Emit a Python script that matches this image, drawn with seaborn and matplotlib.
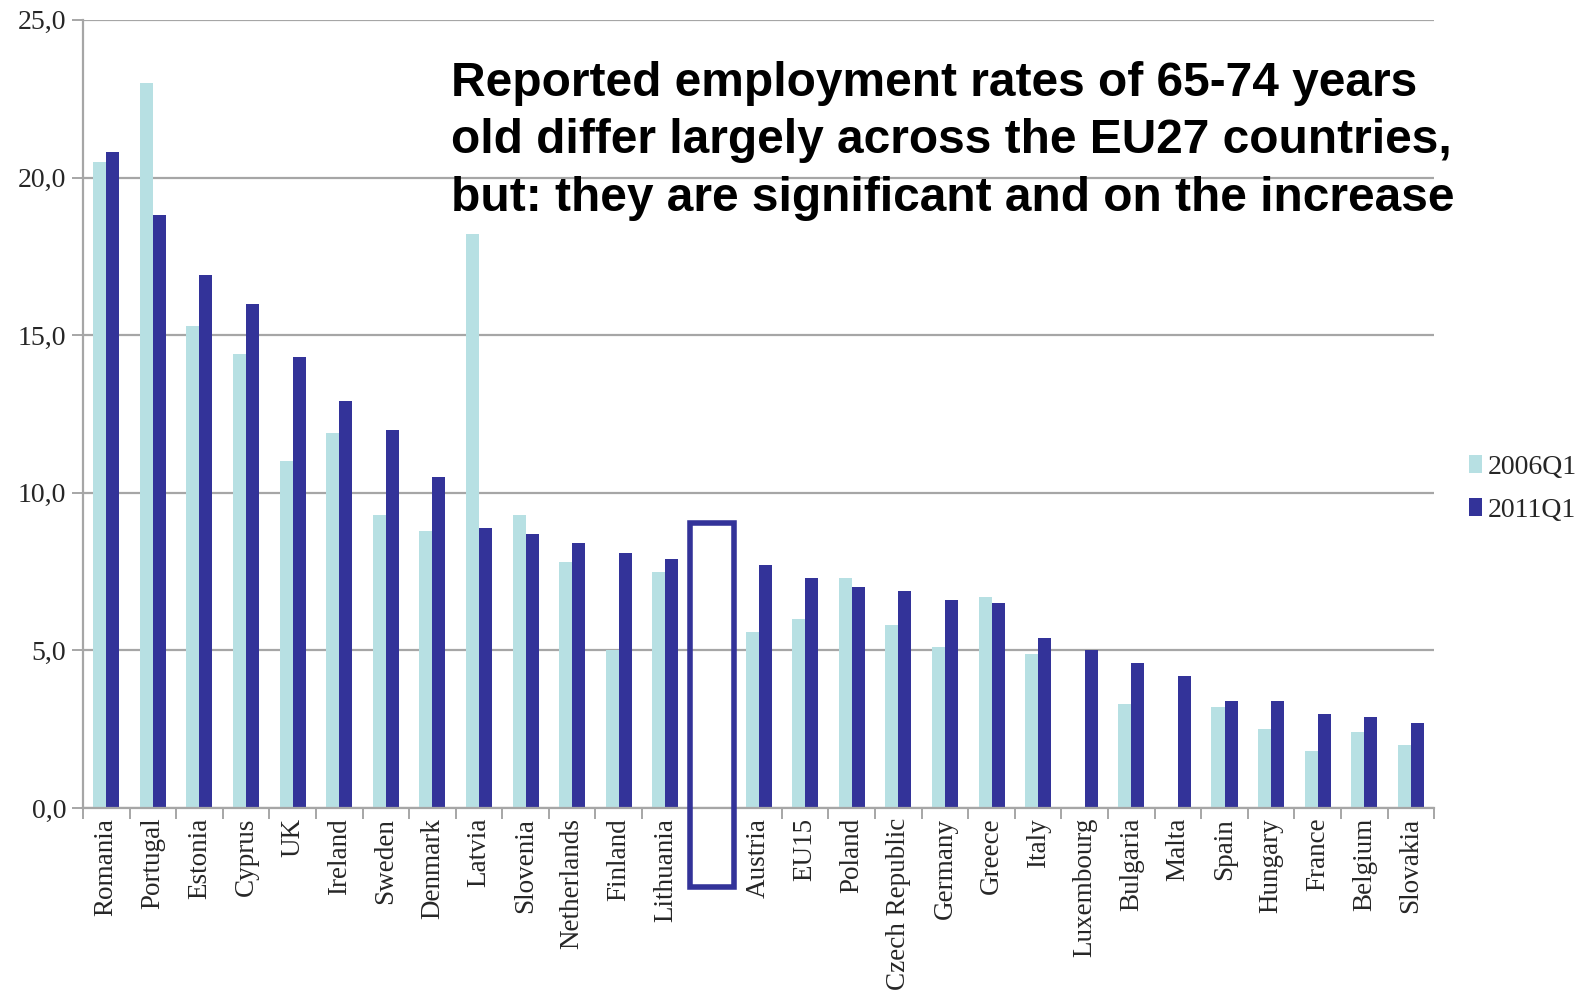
import numpy as np
import pandas as pd
import matplotlib
matplotlib.use("Agg")
import matplotlib.pyplot as plt
import matplotlib.patches as mpatches
from matplotlib.ticker import FuncFormatter
import seaborn as sns

categories = ["Romania", "Portugal", "Estonia", "Cyprus", "UK", "Ireland", "Sweden",
              "Denmark", "Latvia", "Slovenia", "Netherlands", "Finland", "Lithuania", " ",
              "Austria", "EU15", "Poland", "Czech Republic", "Germany", "Greece", "Italy",
              "Luxembourg", "Bulgaria", "Malta", "Spain", "Hungary", "France", "Belgium",
              "Slovakia"]
v2006 = [20.5, 23.0, 15.3, 14.4, 11.0, 11.9, 9.3, 8.8, 18.2, 9.3, 7.8, 5.0, 7.5, np.nan,
         5.6, 6.0, 7.3, 5.8, 5.1, 6.7, 4.9, np.nan, 3.3, np.nan, 3.2, 2.5, 1.8, 2.4, 2.0]
v2011 = [20.8, 18.8, 16.9, 16.0, 14.3, 12.9, 12.0, 10.5, 8.9, 8.7, 8.4, 8.1, 7.9, np.nan,
         7.7, 7.3, 7.0, 6.9, 6.6, 6.5, 5.4, 5.0, 4.6, 4.2, 3.4, 3.4, 3.0, 2.9, 2.7]
series = ["2006Q1", "2011Q1"]
colors = ["#B7E0E3", "#333399"]
y_ticks = [0, 5, 10, 15, 20, 25]
title_lines = ["Reported employment rates of 65-74 years",
               "old differ largely across the EU27 countries,",
               "but: they are significant and on the increase"]
highlight_top = 9.05

df = pd.DataFrame({
    "country": categories * 2,
    "period": [series[0]] * len(categories) + [series[1]] * len(categories),
    "value": v2006 + v2011,
})

sns.set_theme(style="white")
serif = ["Liberation Serif", "DejaVu Serif"]

fig = plt.figure(figsize=(15.83, 9.94), dpi=100)
ax = fig.add_axes([0.0524, 0.187, 0.8536, 0.793])

sns.barplot(data=df, x="country", y="value", hue="period", order=categories,
            hue_order=series, palette=colors, width=0.56, errorbar=None,
            saturation=1, ax=ax, legend=True, linewidth=0)

n = len(categories)
ax.set_xlim(-0.5, n - 0.5)
ax.set_ylim(0, 25)
ax.set_yticks(y_ticks)
ax.yaxis.set_major_formatter(FuncFormatter(lambda v, p: f"{v:.1f}".replace(".", ",")))
ax.grid(axis="y", color="#A6A6A6", linewidth=1.6)
ax.set_axisbelow(True)
for s in ["top", "right"]:
    ax.spines[s].set_visible(False)
for s in ["left", "bottom"]:
    ax.spines[s].set_color("#A6A6A6")
    ax.spines[s].set_linewidth(1.6)
ax.set_xlabel("")
ax.set_ylabel("")

ax.set_xticks(range(n))
ax.set_xticklabels(categories, rotation=90, fontsize=19.5, family=serif)
ax.tick_params(axis="x", which="major", length=0, pad=7)
ax.set_xticks(np.arange(-0.5, n, 1), minor=True)
ax.tick_params(axis="x", which="minor", length=8, width=1.4, color="#A6A6A6", bottom=True)
ax.tick_params(axis="y", which="major", length=8, width=1.4, color="#A6A6A6", left=True,
               labelsize=20, pad=4)
for lab in ax.get_yticklabels():
    lab.set_family(serif)

# highlight box around the blank slot
bi = categories.index(" ")
rect = mpatches.Rectangle((bi - 0.48, -2.5), 0.96, highlight_top + 2.5, fill=False,
                          edgecolor="#333399", linewidth=4, clip_on=False, zorder=5)
ax.add_patch(rect)

leg = ax.legend(loc="center left", bbox_to_anchor=(1.011, 0.405), frameon=False,
                prop={"family": serif, "size": 20}, handlelength=0.5, handleheight=0.6,
                handletextpad=0.2, labelspacing=0.65, borderaxespad=0.3)

ys = [96, 153, 211]
for line, yp in zip(title_lines, ys):
    fig.text(451 / 1583, 1 - yp / 994, line, fontsize=34.5, fontweight="bold",
             family=["Liberation Sans", "DejaVu Sans"], va="baseline", ha="left",
             color="black")

fig.savefig("out.png", dpi=100)
